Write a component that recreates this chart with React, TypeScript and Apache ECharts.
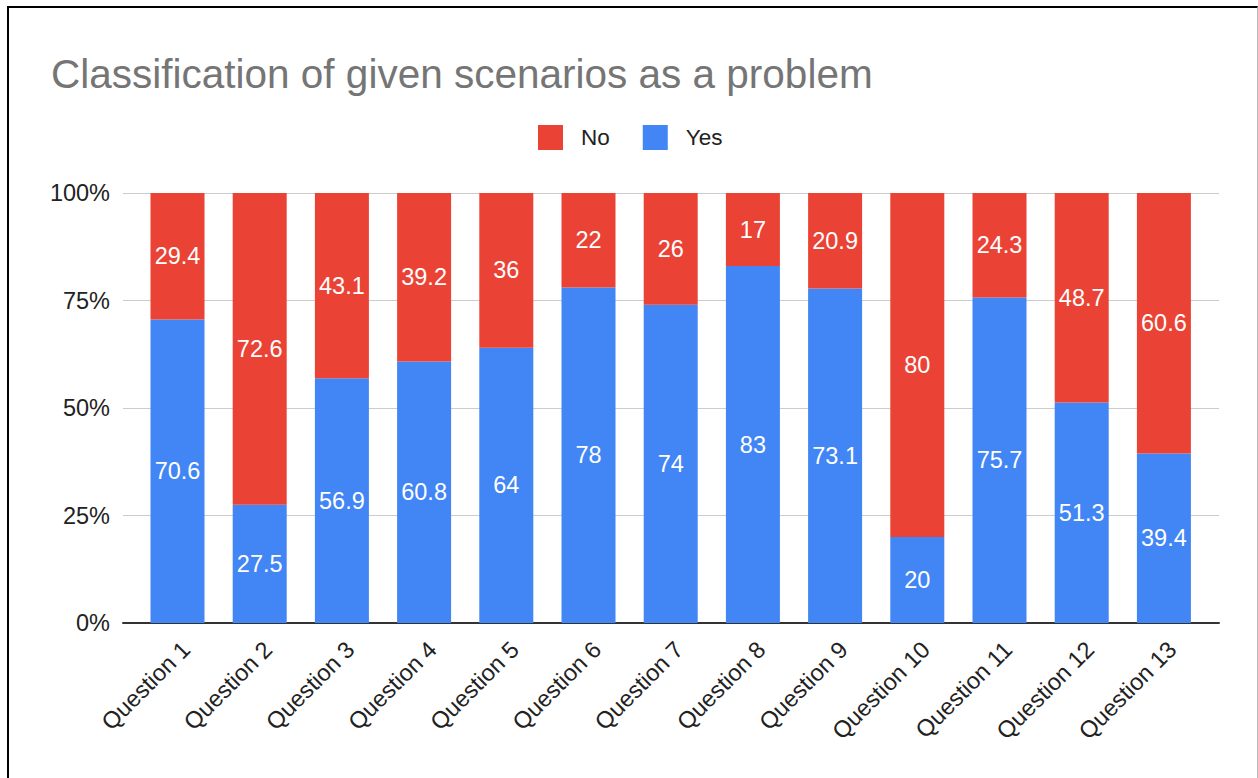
import React, { useEffect, useRef } from "react";
import * as echarts from "echarts";

const categories = [
  "Question 1", "Question 2", "Question 3", "Question 4", "Question 5",
  "Question 6", "Question 7", "Question 8", "Question 9", "Question 10",
  "Question 11", "Question 12", "Question 13",
];
const yesValues = [70.6, 27.5, 56.9, 60.8, 64, 78, 74, 83, 73.1, 20, 75.7, 51.3, 39.4];
const noValues = [29.4, 72.6, 43.1, 39.2, 36, 22, 26, 17, 20.9, 80, 24.3, 48.7, 60.6];
const yTicks = [0, 25, 50, 75, 100];

const FONT = "Arial, 'Liberation Sans', sans-serif";
const RED = "#ea4335";
const BLUE = "#4285f4";

export default function App() {
  const ref = useRef<HTMLDivElement>(null);

  useEffect(() => {
    if (!ref.current) return;
    const chart = echarts.init(ref.current, undefined, { renderer: "svg" });

    // 100% stacked: each column is scaled to its own total
    const totals = yesValues.map((y, i) => y + noValues[i]);
    const pct = (arr: number[]) =>
      arr.map((v, i) => ({ value: (v / totals[i]) * 100, raw: v }));

    const plotTop = 193;
    const plotHeight = 430;
    const band = 82.2;
    const bandLeft = 136.4;

    const labelCfg = {
      show: true,
      position: "inside",
      color: "#ffffff",
      fontSize: 23.5,
      fontFamily: FONT,
      formatter: (p: any) => String(p.data.raw),
    };

    chart.setOption({
      animation: false,
      backgroundColor: "#ffffff",
      title: {
        text: "Classification of given scenarios as a problem",
        left: 46,
        top: 48,
        textStyle: { color: "#757575", fontSize: 40.5, fontWeight: "normal", fontFamily: FONT },
      },
      legend: {
        data: ["No", "Yes"],
        left: 533,
        top: 120,
        itemWidth: 25,
        itemHeight: 25,
        itemGap: 33,
        icon: "rect",
        itemStyle: { borderRadius: 2 },
        textStyle: { color: "#222222", fontSize: 22.5, fontFamily: FONT, padding: [0, 0, 0, 13] },
      },
      grid: [
        { left: 123, width: 1096, top: plotTop, height: plotHeight },
        { left: bandLeft, width: band * categories.length, top: plotTop, height: plotHeight },
      ],
      xAxis: [
        {
          type: "value",
          gridIndex: 0,
          min: 0,
          max: 1,
          axisLine: { show: true, onZero: false, lineStyle: { color: "#333333", width: 2 } },
          axisTick: { show: false },
          axisLabel: { show: false },
          splitLine: { show: false },
        },
        {
          type: "category",
          gridIndex: 1,
          data: categories,
          axisLine: { show: false },
          axisTick: { show: false },
          axisLabel: {
            rotate: 45,
            margin: 14,
            verticalAlign: "top",
            color: "#222222",
            fontSize: 23.5,
            fontFamily: FONT,
          },
        },
      ],
      yAxis: [
        {
          type: "value",
          gridIndex: 0,
          min: yTicks[0],
          max: yTicks[yTicks.length - 1],
          interval: 25,
          axisLine: { show: false },
          axisTick: { show: false },
          axisLabel: {
            margin: 13,
            color: "#222222",
            fontSize: 23.5,
            fontFamily: FONT,
            formatter: (v: number) => `${v}%`,
          },
          splitLine: { lineStyle: { color: "#cccccc", width: 1 } },
        },
        {
          type: "value",
          gridIndex: 1,
          min: 0,
          max: 100,
          show: false,
        },
      ],
      series: [
        {
          name: "Yes",
          type: "bar",
          stack: "total",
          xAxisIndex: 1,
          yAxisIndex: 1,
          barWidth: 54,
          itemStyle: { color: BLUE },
          label: labelCfg,
          data: pct(yesValues),
          z: 3,
        },
        {
          name: "No",
          type: "bar",
          stack: "total",
          xAxisIndex: 1,
          yAxisIndex: 1,
          barWidth: 54,
          itemStyle: { color: RED },
          label: labelCfg,
          data: pct(noValues),
          z: 3,
        },
      ],
    });

    return () => chart.dispose();
  }, []);

  return (
    <div style={{ position: "fixed", left: 0, top: 0, width: 1258, height: 778, background: "#fff" }}>
      <div ref={ref} style={{ position: "absolute", left: 0, top: 0, width: 1258, height: 778 }} />
      <div
        style={{
          position: "absolute",
          left: 7,
          top: 6,
          width: 1248,
          height: 780,
          borderTop: "2px solid #000",
          borderLeft: "2px solid #000",
          borderRight: "1px solid #bbb",
          pointerEvents: "none",
        }}
      />
    </div>
  );
}
